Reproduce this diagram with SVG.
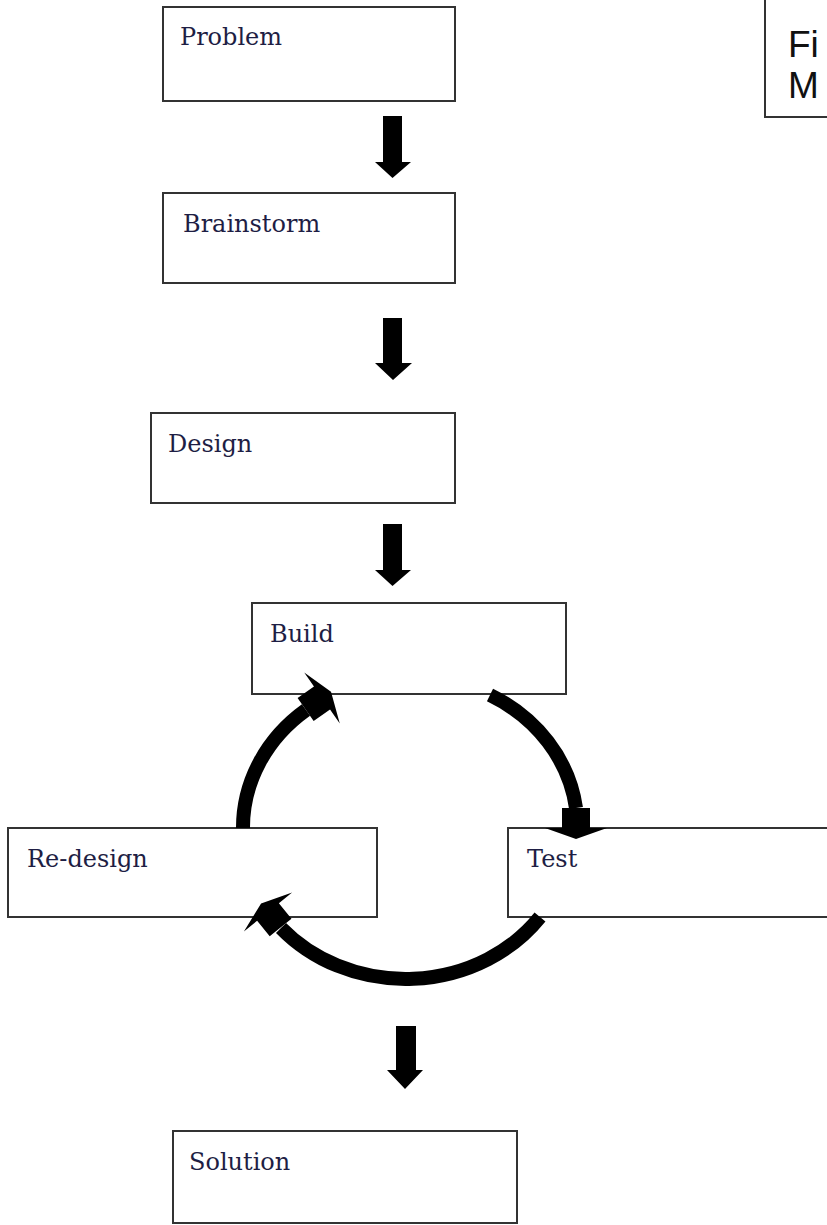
<svg xmlns="http://www.w3.org/2000/svg" xmlns:xlink="http://www.w3.org/1999/xlink" width="827" height="1225" viewBox="0 0 827 1225">
<defs>
<style>
.box{fill:#ffffff;stroke:#333333;stroke-width:2}
.lbl{font-family:"DejaVu Serif","Liberation Serif",serif;font-size:24px;fill:#1e1e44}
.note{font-family:"Liberation Sans",Arial,sans-serif;font-size:37px;fill:#111111}
.arc{fill:none;stroke:#000000;stroke-width:14}
.blk{fill:#000000}
</style>
<path id="head" d="M-20,-14 H0 V-31 L11,0 L0,31 V14 H-20 Z"/>
</defs>
<rect width="827" height="1225" fill="#ffffff"/>
<g id="note">
<rect class="box" x="765" y="-4" width="70" height="121"/>
<text class="note" x="788" y="57">Fi</text>
<text class="note" x="788" y="98">M</text>
</g>
<g id="problem">
<rect class="box" x="163" y="7" width="292" height="94"/>
<text class="lbl" x="180" y="45">Problem</text>
</g>
<g id="brainstorm">
<rect class="box" x="163" y="193" width="292" height="90"/>
<text class="lbl" x="183" y="232">Brainstorm</text>
</g>
<g id="design">
<rect class="box" x="151" y="413" width="304" height="90"/>
<text class="lbl" x="168" y="452">Design</text>
</g>
<g id="build">
<rect class="box" x="252" y="603" width="314" height="91"/>
<text class="lbl" x="270" y="642">Build</text>
</g>
<g id="redesign">
<rect class="box" x="8" y="828" width="369" height="89"/>
<text class="lbl" x="27" y="867">Re-design</text>
</g>
<g id="test">
<rect class="box" x="508" y="828" width="340" height="89"/>
<text class="lbl" x="527" y="867">Test</text>
</g>
<g id="solution">
<rect class="box" x="173" y="1131" width="344" height="92"/>
<text class="lbl" x="189" y="1170">Solution</text>
</g>
<g id="connectors">
<path class="blk" d="M383,116 H402 V162 H411 L392.5,178 L375,162 H383 Z"/>
<path class="blk" d="M383,318 H402 V363 H412 L393,380 L375,363 H383 Z"/>
<path class="blk" d="M383,524 H402 V570 H411 L392.5,586 L375,570 H383 Z"/>
<path class="blk" d="M396,1026 H416 V1070 H423 L405,1089 L387,1070 H396 Z"/>
<path class="arc" d="M490,695 A166,150 0 0 1 576,808"/>
<use href="#head" xlink:href="#head" class="blk" transform="translate(576,828) rotate(90)"/>
<path class="arc" d="M540,917 A166,150 0 0 1 281,928"/>
<use href="#head" xlink:href="#head" class="blk" transform="translate(268,912) rotate(-129)"/>
<path class="arc" d="M243,828 A166,150 0 0 1 306,710"/>
<use href="#head" xlink:href="#head" class="blk" transform="translate(322,698) rotate(-35)"/>
</g>
</svg>
